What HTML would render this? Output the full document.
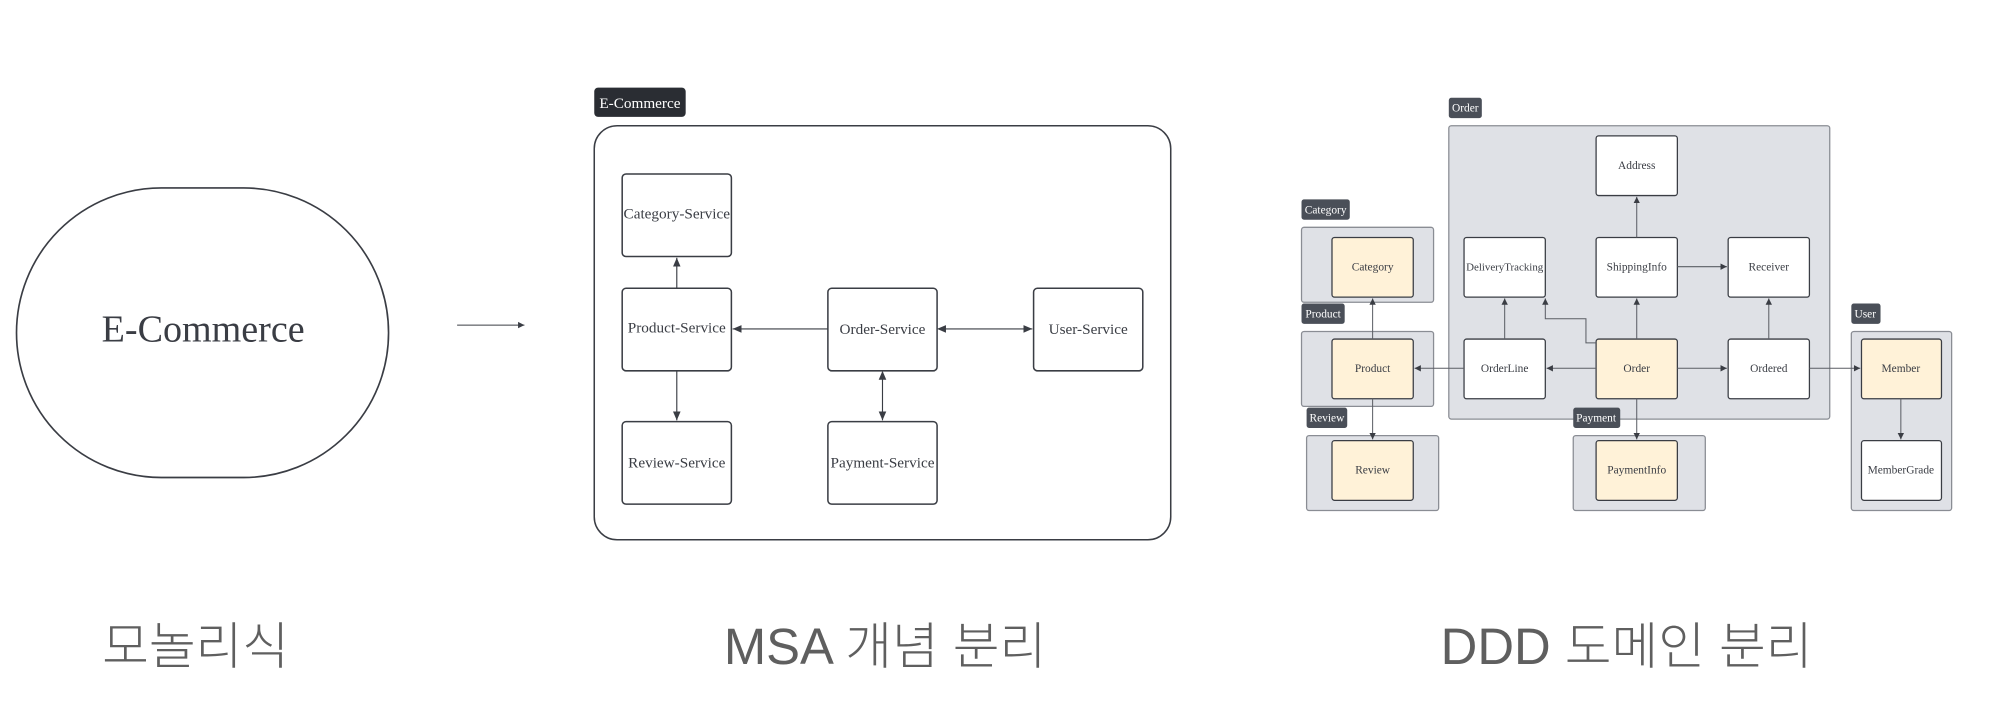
<!DOCTYPE html>
<html><head><meta charset="utf-8"><style>
html,body{margin:0;padding:0;background:#fff;width:1991px;height:701px;overflow:hidden}
svg{display:block}
.s{font-family:"Liberation Serif",serif;fill:#3a3d44}
.k{font-family:"Liberation Sans","Noto Sans CJK KR",sans-serif;fill:#5f5f5f;font-weight:300}
</style></head><body>
<svg width="1991" height="701" viewBox="0 0 1568 552" preserveAspectRatio="none" xmlns="http://www.w3.org/2000/svg">
<defs>
<marker id="a" markerWidth="8" markerHeight="8" refX="7" refY="4" orient="auto" markerUnits="userSpaceOnUse"><path d="M0,1 L7,4 L0,7z" fill="#3a3d44"/></marker>
<marker id="b" markerWidth="8" markerHeight="8" refX="1" refY="4" orient="auto" markerUnits="userSpaceOnUse"><path d="M7,1 L0,4 L7,7z" fill="#3a3d44"/></marker>
<marker id="c" markerWidth="6" markerHeight="6" refX="5" refY="3" orient="auto" markerUnits="userSpaceOnUse"><path d="M0,0.5 L5,3 L0,5.5z" fill="#3a3d44"/></marker>
</defs>
<!-- monolith -->
<rect x="13" y="148" width="293" height="228" rx="114" fill="#fff" stroke="#3a3d44" stroke-width="1.3"/>
<text x="160" y="269" class="s" font-size="30" text-anchor="middle">E-Commerce</text>
<line x1="360" y1="256" x2="413" y2="256" stroke="#3a3d44" stroke-width="0.8" marker-end="url(#c)"/>
<!-- MSA -->
<rect x="468" y="69" width="72" height="23" rx="3" fill="#2a2d33"/>
<text x="504" y="85" font-size="12" fill="#fff" font-family="Liberation Serif,serif" text-anchor="middle">E-Commerce</text>
<rect x="468" y="99" width="454" height="326" rx="18" fill="#fff" stroke="#3a3d44" stroke-width="1.2"/>
<g fill="#fff" stroke="#3a3d44" stroke-width="1.2">
<rect x="490" y="137" width="86" height="65" rx="3"/>
<rect x="490" y="227" width="86" height="65" rx="3"/>
<rect x="490" y="332" width="86" height="65" rx="3"/>
<rect x="652" y="227" width="86" height="65" rx="3"/>
<rect x="652" y="332" width="86" height="65" rx="3"/>
<rect x="814" y="227" width="86" height="65" rx="3"/>
</g>
<g class="s" font-size="12" text-anchor="middle">
<text x="533" y="172">Category-Service</text>
<text x="533" y="262">Product-Service</text>
<text x="533" y="368">Review-Service</text>
<text x="695" y="263">Order-Service</text>
<text x="695" y="368">Payment-Service</text>
<text x="857" y="263">User-Service</text>
</g>
<g stroke="#3a3d44" stroke-width="0.9" fill="none">
<line x1="533" y1="227" x2="533" y2="203" marker-end="url(#a)"/>
<line x1="533" y1="292" x2="533" y2="331" marker-end="url(#a)"/>
<line x1="652" y1="259" x2="577" y2="259" marker-end="url(#a)"/>
<line x1="739" y1="259" x2="813" y2="259" marker-end="url(#a)" marker-start="url(#b)"/>
<line x1="695" y1="293" x2="695" y2="331" marker-end="url(#a)" marker-start="url(#b)"/>
</g>
<!-- DDD containers -->
<g fill="#dfe1e6" stroke="#8a8d94" stroke-width="1">
<rect x="1141" y="99" width="300" height="231" rx="2"/>
<rect x="1025" y="179" width="104" height="59" rx="2"/>
<rect x="1025" y="261" width="104" height="59" rx="2"/>
<rect x="1029" y="343" width="104" height="59" rx="2"/>
<rect x="1239" y="343" width="104" height="59" rx="2"/>
<rect x="1458" y="261" width="79" height="141" rx="2"/>
</g>
<g fill="#4a4f58">
<rect x="1141" y="77" width="26" height="16" rx="2"/>
<rect x="1025" y="157" width="38" height="16" rx="2"/>
<rect x="1025" y="239" width="34" height="16" rx="2"/>
<rect x="1029" y="321" width="32" height="16" rx="2"/>
<rect x="1239" y="321" width="37" height="16" rx="2"/>
<rect x="1458" y="239" width="23" height="16" rx="2"/>
</g>
<g font-family="Liberation Serif,serif" font-size="9" fill="#fff" text-anchor="middle">
<text x="1154" y="88">Order</text>
<text x="1044" y="168">Category</text>
<text x="1042" y="250">Product</text>
<text x="1045" y="332">Review</text>
<text x="1257" y="332">Payment</text>
<text x="1469" y="250">User</text>
</g>
<g stroke="#3a3d44" stroke-width="1">
<rect x="1257" y="107" width="64" height="47" rx="2" fill="#fff"/>
<rect x="1153" y="187" width="64" height="47" rx="2" fill="#fff"/>
<rect x="1257" y="187" width="64" height="47" rx="2" fill="#fff"/>
<rect x="1361" y="187" width="64" height="47" rx="2" fill="#fff"/>
<rect x="1153" y="267" width="64" height="47" rx="2" fill="#fff"/>
<rect x="1257" y="267" width="64" height="47" rx="2" fill="#fff2d8"/>
<rect x="1361" y="267" width="64" height="47" rx="2" fill="#fff"/>
<rect x="1049" y="187" width="64" height="47" rx="2" fill="#fff2d8"/>
<rect x="1049" y="267" width="64" height="47" rx="2" fill="#fff2d8"/>
<rect x="1049" y="347" width="64" height="47" rx="2" fill="#fff2d8"/>
<rect x="1257" y="347" width="64" height="47" rx="2" fill="#fff2d8"/>
<rect x="1466" y="267" width="63" height="47" rx="2" fill="#fff2d8"/>
<rect x="1466" y="347" width="63" height="47" rx="2" fill="#fff"/>
</g>
<g class="s" font-size="9" text-anchor="middle">
<text x="1289" y="133">Address</text>
<text x="1185" y="213" font-size="8.6">DeliveryTracking</text>
<text x="1289" y="213">ShippingInfo</text>
<text x="1393" y="213">Receiver</text>
<text x="1185" y="293">OrderLine</text>
<text x="1289" y="293">Order</text>
<text x="1393" y="293">Ordered</text>
<text x="1081" y="213">Category</text>
<text x="1081" y="293">Product</text>
<text x="1081" y="373">Review</text>
<text x="1289" y="373">PaymentInfo</text>
<text x="1497" y="293">Member</text>
<text x="1497" y="373">MemberGrade</text>
</g>
<g stroke="#5a5d64" stroke-width="0.8" fill="none">
<line x1="1081" y1="267" x2="1081" y2="235" marker-end="url(#c)"/>
<line x1="1081" y1="314" x2="1081" y2="346" marker-end="url(#c)"/>
<line x1="1153" y1="290" x2="1114" y2="290" marker-end="url(#c)"/>
<line x1="1257" y1="290" x2="1218" y2="290" marker-end="url(#c)"/>
<line x1="1321" y1="290" x2="1360" y2="290" marker-end="url(#c)"/>
<line x1="1425" y1="290" x2="1465" y2="290" marker-end="url(#c)"/>
<line x1="1289" y1="267" x2="1289" y2="235" marker-end="url(#c)"/>
<line x1="1289" y1="187" x2="1289" y2="155" marker-end="url(#c)"/>
<line x1="1321" y1="210" x2="1360" y2="210" marker-end="url(#c)"/>
<line x1="1393" y1="267" x2="1393" y2="235" marker-end="url(#c)"/>
<line x1="1185" y1="267" x2="1185" y2="235" marker-end="url(#c)"/>
<path d="M1257,270 L1249,270 L1249,251 L1217,251 L1217,235" marker-end="url(#c)"/>
<line x1="1289" y1="314" x2="1289" y2="346" marker-end="url(#c)"/>
<line x1="1497" y1="314" x2="1497" y2="346" marker-end="url(#c)"/>
</g>
<!-- bottom labels -->
<text x="154" y="523" class="k" font-size="40" text-anchor="middle">모놀리식</text>
<text x="697" y="523" class="k" font-size="40" text-anchor="middle">MSA 개념 분리</text>
<text x="1281" y="523" class="k" font-size="40" text-anchor="middle">DDD 도메인 분리</text>
</svg>
</body></html>
